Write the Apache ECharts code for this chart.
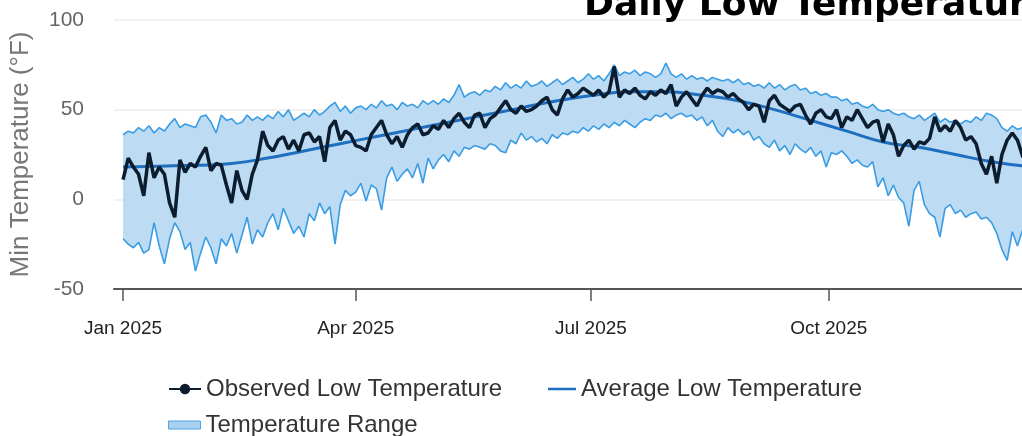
<!DOCTYPE html>
<html>
<head>
<meta charset="utf-8">
<script src="https://cdn.jsdelivr.net/npm/echarts@6/dist/echarts.min.js"></script>
<style>
  html, body { margin: 0; padding: 0; background: #fff; overflow: hidden; width: 1022px; height: 436px; }
  #chart { width: 1100px; height: 436px; }
</style>
</head>
<body>
<div id="chart"></div>
<script>
// Daily data sampled every 2 days starting 2025-01-01 (values in °F)
const startDate = [2025, 0, 1];
const stepDays = 2;
const observed = [
  11, 23, 18, 14, 2, 26, 12, 18, 14, -2, -10, 22, 15, 20, 18, 24, 29, 16, 20, 19,
  8, -2, 16, 5, 0, 14, 22, 38, 30, 27, 33, 35, 28, 33, 27, 36, 37, 32, 35, 21,
  40, 44, 33, 38, 36, 30, 29, 27, 36, 40, 44, 36, 31, 35, 29, 36, 40, 42, 36, 37,
  41, 39, 44, 40, 45, 48, 43, 40, 47, 48, 40, 45, 47, 51, 55, 50, 48, 52, 49, 50,
  52, 55, 57, 50, 47, 56, 61, 57, 59, 62, 60, 58, 61, 57, 60, 74, 57, 61, 59, 62,
  58, 56, 60, 58, 61, 59, 64, 52, 57, 60, 56, 52, 58, 62, 59, 61, 60, 57, 59, 56,
  54, 50, 53, 52, 43, 55, 58, 53, 51, 49, 52, 53, 47, 42, 48, 50, 46, 45, 50, 40,
  46, 44, 50, 45, 40, 43, 44, 32, 42, 36, 24, 30, 33, 28, 32, 31, 34, 46, 38, 41,
  38, 44, 40, 33, 35, 31, 20, 14, 24, 9, 25, 33, 37, 33, 24, 21, 26
];
const rangeMax = [
  36, 38, 37, 40, 38, 41, 37, 40, 38, 42, 45, 40, 42, 41, 40, 46, 47, 43, 37, 47,
  44, 45, 42, 43, 47, 44, 46, 44, 47, 45, 49, 46, 50, 44, 46, 48, 46, 50, 47, 49,
  52, 54, 49, 52, 48, 51, 52, 50, 53, 51, 55, 52, 53, 50, 54, 52, 53, 51, 55, 53,
  55, 53, 56, 54, 58, 64, 57, 59, 60, 58, 61, 60, 63, 61, 65, 62, 64, 62, 66, 63,
  64, 66, 63, 65, 67, 64, 66, 68, 65, 67, 70, 67, 69, 66, 70, 75, 69, 71, 70, 72,
  69, 71, 70, 68, 70, 76, 70, 68, 70, 67, 69, 67, 68, 66, 68, 67, 66, 67, 65, 67,
  64, 65, 63, 64, 62, 65, 62, 64, 61, 63, 64, 61, 62, 59, 60, 58, 59, 57, 57, 55,
  56, 53, 54, 52, 51, 53, 50, 49, 50, 48, 47, 48, 46, 45, 47, 44, 46, 48, 43, 45,
  43, 44, 42, 44, 43, 46, 44, 48, 47, 45, 40, 38, 41, 39, 40, 42, 40
];
const rangeMin = [
  -22, -25, -27, -24, -30, -28, -13, -26, -36, -22, -13, -18, -28, -24, -40, -30, -21, -27, -36, -22,
  -26, -19, -30, -20, -10, -25, -17, -21, -13, -8, -17, -5, -12, -19, -15, -21, -8, -12, -2, -8,
  -4, -25, -3, 5, 2, 4, 9, -1, 8, 6, -6, 12, 18, 10, 14, 17, 12, 20, 9, 23,
  17, 22, 25, 21, 27, 24, 29, 28, 30, 29, 28, 31, 30, 27, 26, 33, 31, 37, 33, 35,
  32, 34, 31, 36, 34, 37, 36, 38, 37, 40, 38, 41, 39, 42, 40, 43, 41, 44, 42, 40,
  43, 45, 44, 47, 46, 48, 45, 47, 48, 46, 47, 44, 46, 41, 44, 38, 35, 40, 37, 39,
  36, 38, 33, 35, 31, 29, 33, 27, 30, 25, 31, 28, 26, 29, 24, 27, 18, 26, 25, 27,
  24, 20, 22, 19, 18, 21, 7, 12, 2, 8, 1, -2, -15, 5, 10, -3, -8, -10, -21, -5,
  -3, -8, -6, -10, -8, -7, -11, -10, -13, -19, -28, -34, -18, -26, -17, -22, -15
];
// Normal (average) low temperature
const avgDates = [
  '2025-01-01', '2025-01-15', '2025-01-29', '2025-02-12', '2025-02-26', '2025-03-12',
  '2025-03-26', '2025-04-09', '2025-04-23', '2025-05-07', '2025-05-21', '2025-06-04',
  '2025-06-18', '2025-07-02', '2025-07-16', '2025-07-30', '2025-08-13', '2025-08-27',
  '2025-09-10', '2025-09-24', '2025-10-08', '2025-10-22', '2025-11-05', '2025-11-19',
  '2025-12-03', '2025-12-19'
];
const avgValues = [
  18, 18.5, 19, 20, 23, 27,
  31, 35, 39, 43, 47, 51,
  55, 58, 60, 60, 58, 55,
  50, 44, 38, 32, 29, 25,
  21, 18
];
const yTicks = { min: -50, max: 100, step: 50 };
const monthNames = ['Jan','Feb','Mar','Apr','May','Jun','Jul','Aug','Sep','Oct','Nov','Dec'];

function dateAt(i) {
  return new Date(startDate[0], startDate[1], startDate[2] + i * stepDays).getTime();
}
const obsData = observed.map((v, i) => [dateAt(i), v]);
const maxData = rangeMax.map((v, i) => [dateAt(i), v]);
const minData = rangeMin.map((v, i) => [dateAt(i), v]);
const bandData = rangeMax.map((v, i) => [dateAt(i), v - rangeMin[i]]);
const avgData = avgDates.map((d, i) => [d, avgValues[i]]);

const FONT = 'Liberation Sans, Helvetica, Arial, sans-serif';
const legendText = { fontFamily: FONT, fontSize: 24, color: '#333' };
const chart = echarts.init(document.getElementById('chart'), null, { renderer: 'canvas' });
chart.setOption({
  animation: false,
  backgroundColor: '#ffffff',
  title: {
    text: 'Daily Low Temperature',
    left: 579,
    top: -17,
    textStyle: { fontFamily: 'DejaVu Sans, sans-serif', fontWeight: 'bold', fontSize: 36, color: '#000' }
  },
  grid: { left: 114, right: 36, top: 20, bottom: 147, containLabel: false },
  legend: [
    {
      left: 163, top: 372,
      itemWidth: 32, itemHeight: 13,
      textStyle: legendText,
      data: ['Observed Low Temperature']
    },
    {
      left: 543, top: 372,
      itemWidth: 28, itemHeight: 13,
      textStyle: legendText,
      data: [{ name: 'Average Low Temperature', icon: 'path://M0,5.5 L28,5.5 L28,8 L0,8 Z', itemStyle: { color: '#1f6fc0' } }]
    },
    {
      left: 163, top: 408,
      itemWidth: 32, itemHeight: 8,
      textStyle: legendText,
      data: [{ name: 'Temperature Range', icon: 'rect', itemStyle: { color: '#a9d2f0', borderColor: '#4da3e3', borderWidth: 1 } }]
    }
  ],
  xAxis: {
    type: 'time',
    min: new Date(2024, 11, 28, 12).getTime(),
    max: new Date(2025, 11, 31).getTime(),
    splitNumber: 4,
    axisLine: { show: true, onZero: false, lineStyle: { color: '#555', width: 2 } },
    axisTick: { show: true, length: 12, lineStyle: { color: '#555', width: 1.5 } },
    splitLine: { show: false },
    axisLabel: {
      margin: 30,
      fontFamily: FONT, fontSize: 19, color: '#222',
      showMinLabel: false, showMaxLabel: false,
      formatter: function (val) {
        const d = new Date(val);
        return monthNames[d.getMonth()] + ' ' + d.getFullYear();
      }
    }
  },
  yAxis: {
    type: 'value',
    min: yTicks.min, max: yTicks.max, interval: yTicks.step,
    name: 'Min Temperature (°F)',
    nameLocation: 'middle',
    nameGap: 80,
    nameTextStyle: { fontFamily: FONT, fontSize: 26, color: '#777' },
    axisLine: { show: false },
    axisTick: { show: false },
    splitLine: { show: true, lineStyle: { color: '#ececec', width: 1.5 } },
    axisLabel: { margin: 30, fontFamily: FONT, fontSize: 21, color: '#666' }
  },
  series: [
    {
      name: 'rangeBase', type: 'line', stack: 'range', stackStrategy: 'all',
      data: minData, symbol: 'none', silent: true,
      lineStyle: { opacity: 0 }, z: 1
    },
    {
      name: 'Temperature Range', type: 'line', stack: 'range', stackStrategy: 'all',
      data: bandData, symbol: 'none', silent: true,
      itemStyle: { color: '#a9d2f0' },
      lineStyle: { opacity: 0 },
      areaStyle: { color: '#bddcf3', opacity: 1 }, z: 1
    },
    {
      name: 'rangeMaxLine', type: 'line', data: maxData, symbol: 'none', silent: true,
      lineStyle: { color: '#3a9ce3', width: 1.6 }, z: 2
    },
    {
      name: 'rangeMinLine', type: 'line', data: minData, symbol: 'none', silent: true,
      lineStyle: { color: '#3a9ce3', width: 1.6 }, z: 2
    },
    {
      name: 'Average Low Temperature', type: 'line', data: avgData, symbol: 'none', smooth: true,
      itemStyle: { color: '#1f6fc0' },
      lineStyle: { color: '#1f6fc0', width: 3 }, z: 3
    },
    {
      name: 'Observed Low Temperature', type: 'line', data: obsData,
      symbol: 'circle', symbolSize: 12, showSymbol: false,
      itemStyle: { color: '#0b1d2e' },
      lineStyle: { color: '#0b1d2e', width: 3.5 }, z: 4
    }
  ]
});
</script>
</body>
</html>
